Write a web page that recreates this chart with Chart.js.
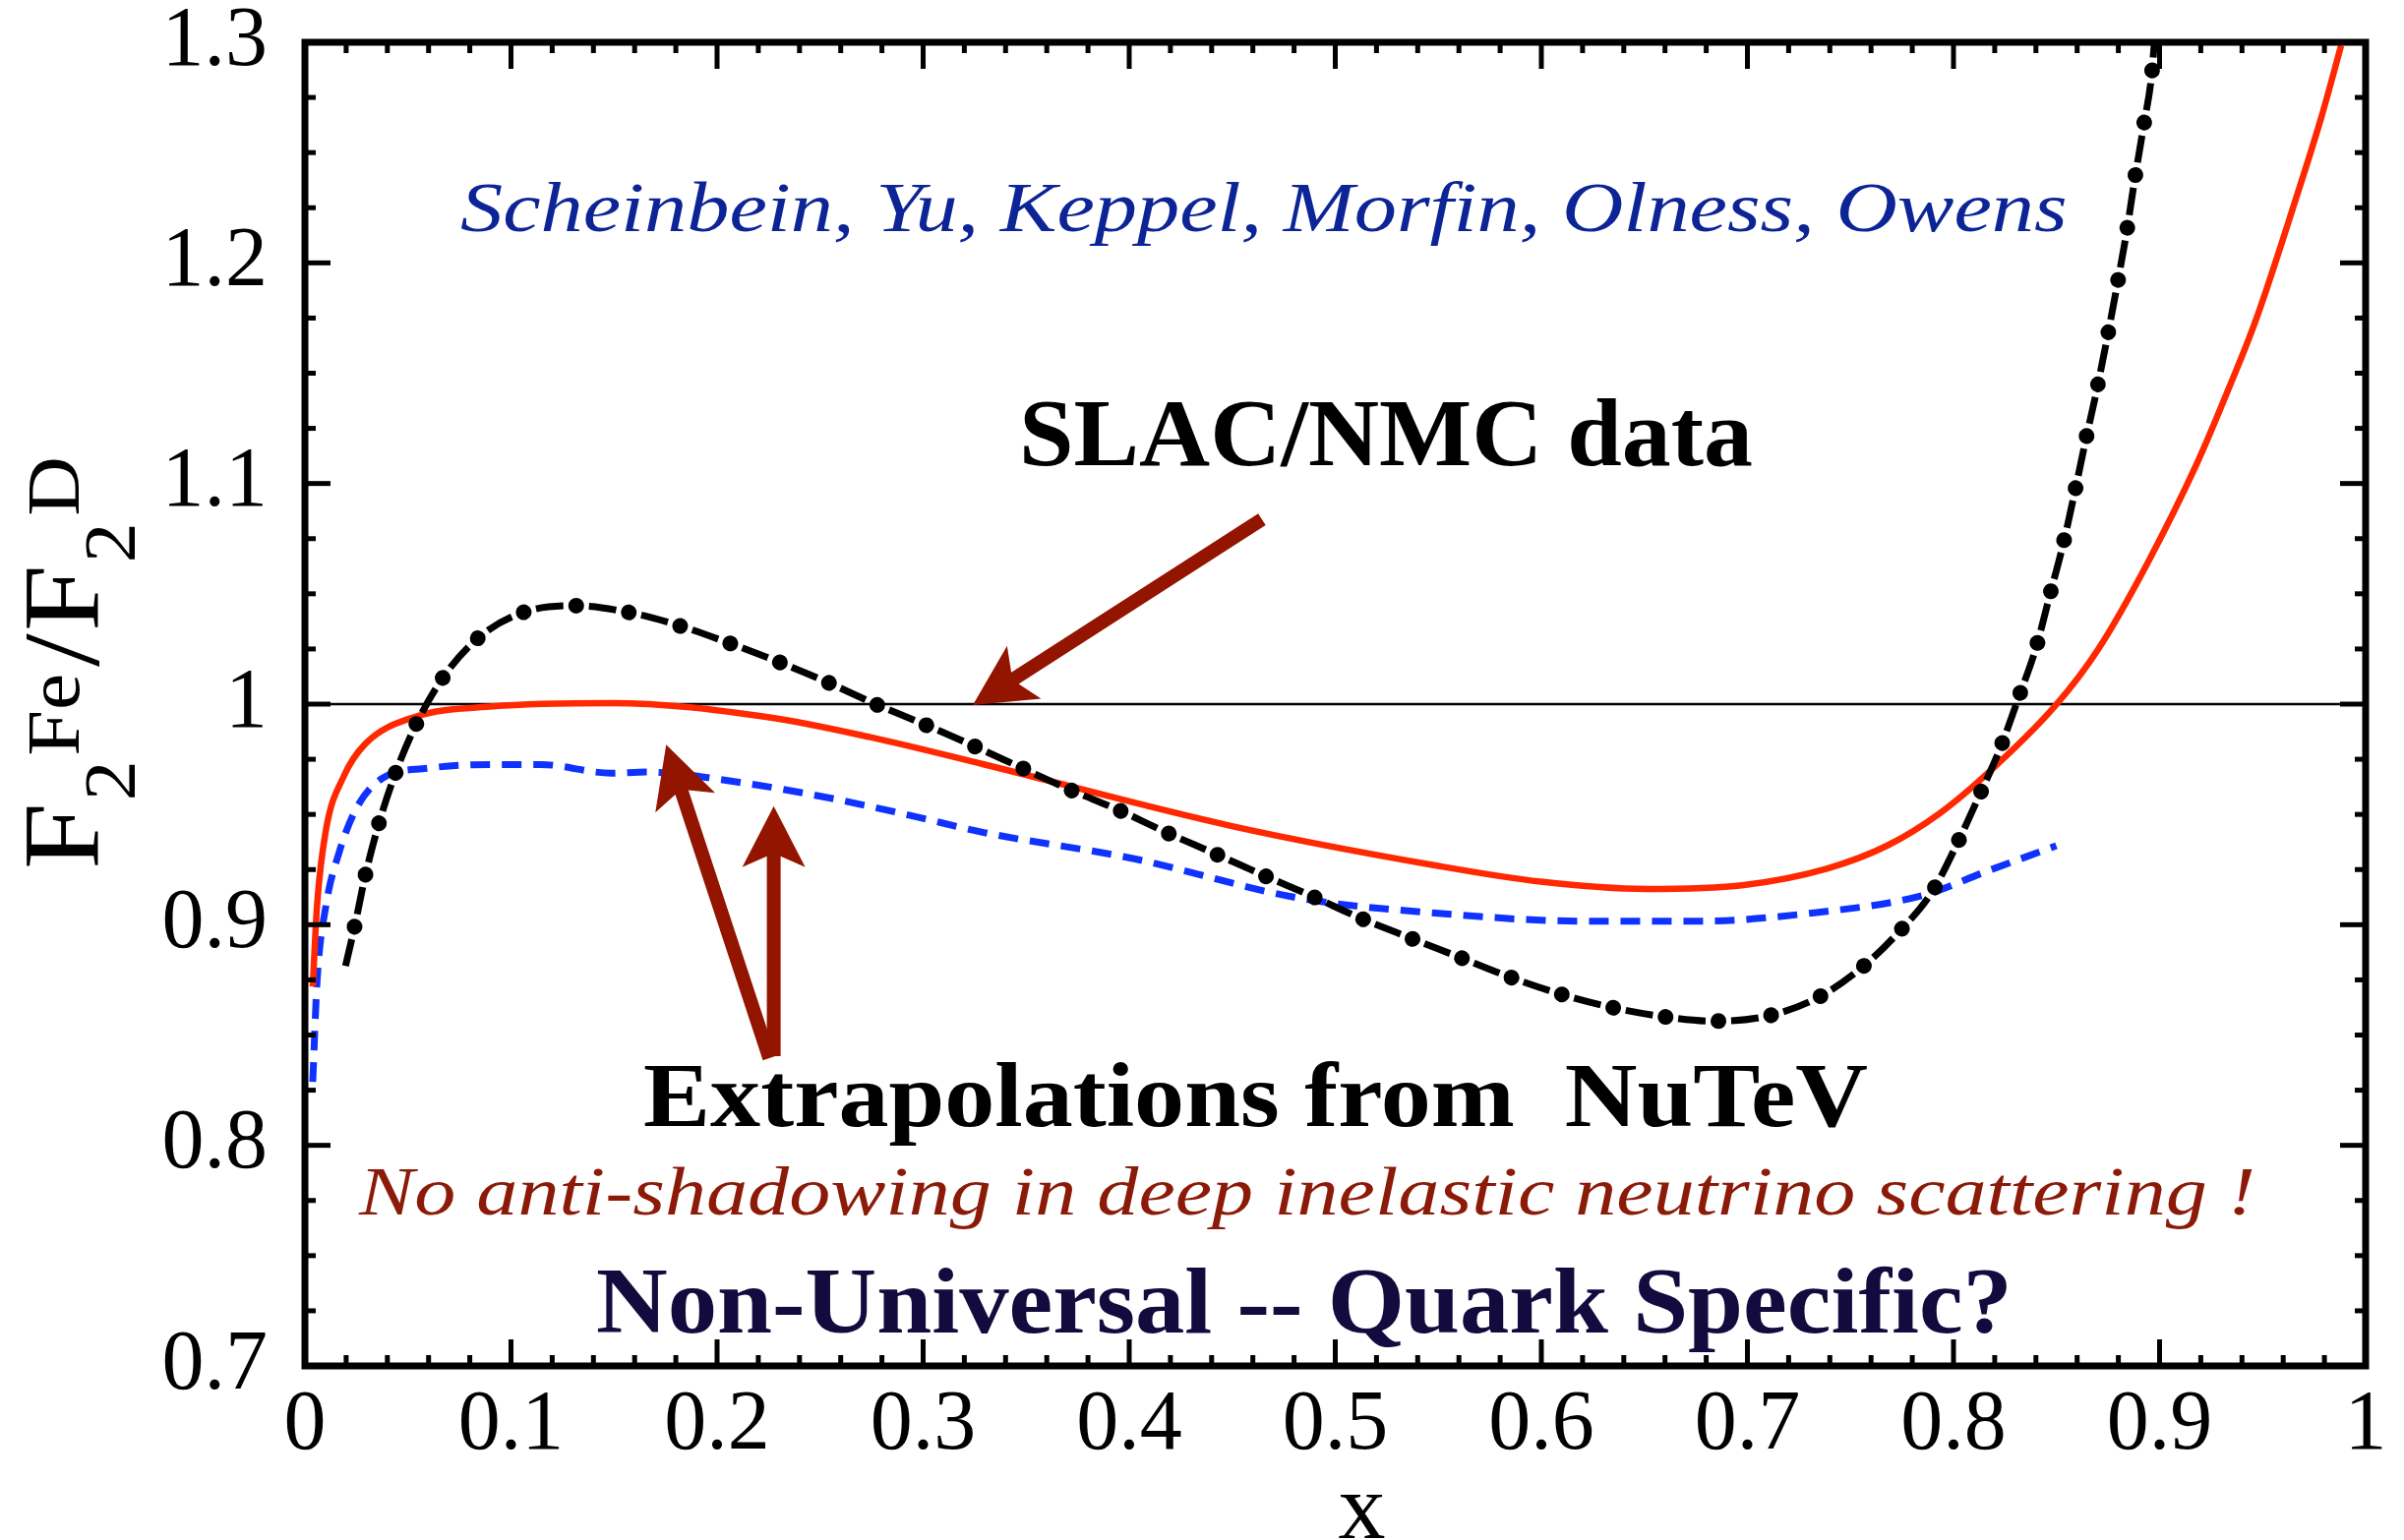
<!DOCTYPE html>
<html>
<head>
<meta charset="utf-8">
<script src="https://cdn.jsdelivr.net/npm/chart.js@4.4.1/dist/chart.umd.min.js"></script>
<style>
  html, body { margin: 0; padding: 0; background: #ffffff; }
  canvas { display: block; }
</style>
</head>
<body>
<canvas id="c" width="2444" height="1566"></canvas>
<script>
// ---------------- data ----------------
const redX = [0.0038, 0.0059, 0.0102, 0.0187, 0.0293, 0.0527, 0.0911, 0.1486, 0.2254, 0.2744, 0.3294, 0.4499, 0.5485, 0.5997, 0.6508, 0.6983, 0.7385, 0.7677, 0.7933, 0.8152, 0.8496, 0.8703, 0.8942, 0.9181, 0.9324, 0.9467, 0.9658, 0.9785, 0.9881];
const redY = [0.872, 0.909, 0.943, 0.967, 0.982, 0.994, 0.999, 1.0005, 0.994, 0.985, 0.9727, 0.9447, 0.9269, 0.9195, 0.9162, 0.918, 0.9254, 0.9358, 0.9505, 0.9675, 0.9995, 1.025, 1.064, 1.109, 1.1404, 1.174, 1.228, 1.266, 1.2985];

const blueX = [0.0038, 0.0059, 0.0102, 0.0165, 0.0251, 0.0379, 0.0591, 0.0911, 0.1146, 0.1486, 0.1657, 0.2083, 0.2509, 0.2936, 0.3294, 0.4024, 0.4828, 0.5485, 0.6216, 0.6764, 0.7312, 0.7860, 0.8152, 0.8499];
const blueY = [0.8288, 0.8745, 0.9086, 0.9325, 0.953, 0.9666, 0.9709, 0.9726, 0.9726, 0.9687, 0.9692, 0.9649, 0.9581, 0.9496, 0.9418, 0.9299, 0.912, 0.9053, 0.9016, 0.9016, 0.9053, 0.9135, 0.9239, 0.9358];

const blackX = [0.0197, 0.0240, 0.0293, 0.0357, 0.0438, 0.0538, 0.0666, 0.0837, 0.1054, 0.1310, 0.1565, 0.1812, 0.2058, 0.2296, 0.2531, 0.2771, 0.3004, 0.3244, 0.3469, 0.3714, 0.3944, 0.4181, 0.4419, 0.4652, 0.4890, 0.5120, 0.5358, 0.5602, 0.5844, 0.6081, 0.6333, 0.6581, 0.6837, 0.7093, 0.7337, 0.7549, 0.7732, 0.7897, 0.8017, 0.8123, 0.8225, 0.8316, 0.8401, 0.8466, 0.8531, 0.8587, 0.8640, 0.8695, 0.8746, 0.8794, 0.8839, 0.8878, 0.8921, 0.8961, 0.8974];
const blackY = [0.8813, 0.8987, 0.9223, 0.9453, 0.9683, 0.9905, 1.0115, 1.0297, 1.0414, 1.0446, 1.0417, 1.0357, 1.0277, 1.0192, 1.0101, 0.9999, 0.9909, 0.9811, 0.9715, 0.9611, 0.9522, 0.9418, 0.9321, 0.9224, 0.9128, 0.9031, 0.8942, 0.8853, 0.8764, 0.8689, 0.8627, 0.8585, 0.8563, 0.8585, 0.8667, 0.8801, 0.8964, 0.9150, 0.9366, 0.9581, 0.9796, 1.0030, 1.0257, 1.0489, 1.0721, 1.0955, 1.1190, 1.1423, 1.1661, 1.1899, 1.2134, 1.2370, 1.2612, 1.2847, 1.2990];

const refX = [0, 1];
const refY = [1, 1];

const xTickLabels = ['0', '0.1', '0.2', '0.3', '0.4', '0.5', '0.6', '0.7', '0.8', '0.9', '1'];
const yTickLabels = ['0.7', '0.8', '0.9', '1', '1.1', '1.2', '1.3'];

// ---------------- annotations (anchored in data coordinates) ----------------
const notes = [
  { text: 'Scheinbein, Yu, Keppel, Morfin, Olness, Owens', x0: 0.0754, x1: 0.8552, y: 1.2144, font: 'italic 72px "Liberation Serif"', color: '#0c2496' },
  { text: 'SLAC/NMC data', x0: 0.3465, x1: 0.7026, y: 1.1083, font: 'bold 98px "Liberation Serif"', color: '#000000' },
  { text: 'Extrapolations from  NuTeV', x0: 0.1642, x1: 0.7585, y: 0.8088, font: 'bold 94px "Liberation Serif"', color: '#000000' },
  { text: 'No anti-shadowing in deep inelastic neutrino scattering !', x0: 0.0263, x1: 0.9465, y: 0.7686, font: 'italic 69px "Liberation Serif"', color: '#8c1a08' },
  { text: 'Non-Universal -- Quark Specific?', x0: 0.1413, x1: 0.8286, y: 0.7151, font: 'bold 96px "Liberation Serif"', color: '#130a3e' }
];
const arrows = [
  { from: [0.4644, 1.0837], to: [0.3241, 0.9995] },
  { from: [0.2254, 0.8395], to: [0.1753, 0.9816] },
  { from: [0.2275, 0.8404], to: [0.2275, 0.9538] }
];

const pts = (xs, ys) => xs.map((x, i) => ({ x: x, y: ys[i] }));
const SERIF = '"Liberation Serif", "Times New Roman", serif';

// frame with inward major/minor ticks on all four sides
const framePlugin = {
  id: 'frame',
  afterDatasetsDraw(chart) {
    const { ctx, chartArea: { left, right, top, bottom }, scales: { x, y } } = chart;
    ctx.save();
    ctx.strokeStyle = '#000';
    ctx.lineCap = 'butt';
    ctx.lineWidth = 5;
    const seg = (x1, y1, x2, y2) => { ctx.beginPath(); ctx.moveTo(x1, y1); ctx.lineTo(x2, y2); ctx.stroke(); };
    for (let i = 1; i < 50; i++) {
      const px = x.getPixelForValue(i * 0.02);
      const L = (i % 5 === 0) ? 27 : 11;
      seg(px, bottom, px, bottom - L);
      seg(px, top, px, top + L);
    }
    for (let i = 1; i < 24; i++) {
      const py = y.getPixelForValue(0.7 + i * 0.025);
      const L = (i % 4 === 0) ? 26 : 11;
      seg(left, py, left + L, py);
      seg(right, py, right - L, py);
    }
    ctx.lineWidth = 7;
    ctx.strokeRect(left, top, right - left, bottom - top);
    ctx.restore();
  }
};

const annotPlugin = {
  id: 'annot',
  afterDraw(chart) {
    const { ctx, chartArea, scales: { x, y } } = chart;
    ctx.save();
    // arrows
    ctx.fillStyle = '#931500';
    arrows.forEach(a => {
      const tx = x.getPixelForValue(a.from[0]), ty = y.getPixelForValue(a.from[1]);
      const px = x.getPixelForValue(a.to[0]), py = y.getPixelForValue(a.to[1]);
      const len = Math.hypot(px - tx, py - ty);
      const dx = (px - tx) / len, dy = (py - ty) / len;
      const nx = -dy, ny = dx;
      const H = 62, W = 32, s = 7, J = 51;
      const bx = px - dx * H, by = py - dy * H;
      const jx = px - dx * J, jy = py - dy * J;
      ctx.beginPath();
      ctx.moveTo(tx + nx * s, ty + ny * s);
      ctx.lineTo(jx + nx * s, jy + ny * s);
      ctx.lineTo(bx + nx * W, by + ny * W);
      ctx.lineTo(px, py);
      ctx.lineTo(bx - nx * W, by - ny * W);
      ctx.lineTo(jx - nx * s, jy - ny * s);
      ctx.lineTo(tx - nx * s, ty - ny * s);
      ctx.closePath();
      ctx.fill();
    });
    // texts, fitted to the measured extents
    ctx.textAlign = 'left';
    ctx.textBaseline = 'alphabetic';
    notes.forEach(n => {
      ctx.font = n.font;
      const w = ctx.measureText(n.text).width;
      const l = x.getPixelForValue(n.x0), r = x.getPixelForValue(n.x1);
      const b = y.getPixelForValue(n.y);
      ctx.save();
      ctx.translate(l, b);
      ctx.scale((r - l) / w, 1);
      ctx.fillStyle = n.color;
      ctx.fillText(n.text, 0, 0);
      ctx.restore();
    });
    // x axis title
    ctx.fillStyle = '#000';
    ctx.font = '96px ' + SERIF;
    ctx.textAlign = 'center';
    ctx.fillText('x', (chartArea.left + chartArea.right) / 2 + 27, chartArea.bottom + 175);
    // y axis title F2^Fe / F2^D (reads bottom to top)
    const parts = [
      { t: 'F', size: 110, dy: 0, gap: 0 },
      { t: '2', size: 74, dy: 37, gap: 2 },
      { t: 'Fe', size: 76, dy: -20, gap: 4 },
      { t: '/', size: 110, dy: 0, gap: 6 },
      { t: 'F', size: 110, dy: 0, gap: 2 },
      { t: '2', size: 74, dy: 37, gap: 2 },
      { t: 'D', size: 76, dy: -20, gap: 6 }
    ];
    let total = 0;
    parts.forEach(p => { ctx.font = p.size + 'px ' + SERIF; total += p.gap + ctx.measureText(p.t).width; });
    const titleLen = 420;
    ctx.save();
    ctx.translate(chartArea.left - 210, (chartArea.top + chartArea.bottom) / 2 + 168);
    ctx.rotate(-Math.PI / 2);
    ctx.scale(titleLen / total, 1);
    ctx.textAlign = 'left';
    let cx = 0;
    parts.forEach(p => {
      cx += p.gap;
      ctx.font = p.size + 'px ' + SERIF;
      ctx.fillText(p.t, cx, p.dy);
      cx += ctx.measureText(p.t).width;
    });
    ctx.restore();
    ctx.restore();
  }
};

new Chart(document.getElementById('c').getContext('2d'), {
  type: 'line',
  data: {
    datasets: [
      { label: 'reference 1', data: pts(refX, refY), borderColor: '#000000', borderWidth: 2.5, pointRadius: 0, order: 10 },
      { label: 'NuTeV (blue)', data: pts(blueX, blueY), borderColor: '#0f32ff', borderWidth: 7, borderDash: [20, 12], pointRadius: 0, cubicInterpolationMode: 'monotone', order: 4 },
      { label: 'NuTeV (red)', data: pts(redX, redY), borderColor: '#ff2800', borderWidth: 6.5, pointRadius: 0, cubicInterpolationMode: 'monotone', order: 3 },
      { label: 'SLAC/NMC', data: pts(blackX, blackY), borderColor: '#000000', borderWidth: 7, borderDash: [28, 26], pointRadius: 0, cubicInterpolationMode: 'monotone', order: 2 },
      { label: 'SLAC/NMC dots', data: pts(blackX, blackY), borderColor: '#000000', borderWidth: 16, borderDash: [0.1, 53.9], borderDashOffset: 13, borderCapStyle: 'round', pointRadius: 0, cubicInterpolationMode: 'monotone', order: 1 }
    ]
  },
  options: {
    responsive: false,
    animation: false,
    events: [],
    layout: { padding: { left: 0, right: 39, top: 43, bottom: 0 } },
    plugins: { legend: { display: false }, tooltip: { enabled: false }, title: { display: false } },
    scales: {
      x: {
        type: 'linear', min: 0, max: 1,
        afterFit(s) { s.height = 177; s.paddingLeft = 0; s.paddingRight = 0; s.paddingTop = 0; s.paddingBottom = 0; },
        grid: { display: false, drawTicks: false },
        border: { display: false },
        ticks: {
          stepSize: 0.1, padding: 23, color: '#000', maxRotation: 0, autoSkip: false,
          font: { family: SERIF, size: 86, lineHeight: 0.9 },
          callback: (v, i) => xTickLabels[i]
        }
      },
      y: {
        type: 'linear', min: 0.7, max: 1.3,
        afterFit(s) { s.width = 310; s.paddingLeft = 0; s.paddingRight = 0; s.paddingTop = 0; s.paddingBottom = 0; },
        grid: { display: false, drawTicks: false },
        border: { display: false },
        ticks: {
          stepSize: 0.1, padding: 38, color: '#000', autoSkip: false,
          font: { family: SERIF, size: 86, lineHeight: 0.9 },
          callback: (v, i) => yTickLabels[i]
        }
      }
    }
  },
  plugins: [framePlugin, annotPlugin]
});
</script>
</body>
</html>
